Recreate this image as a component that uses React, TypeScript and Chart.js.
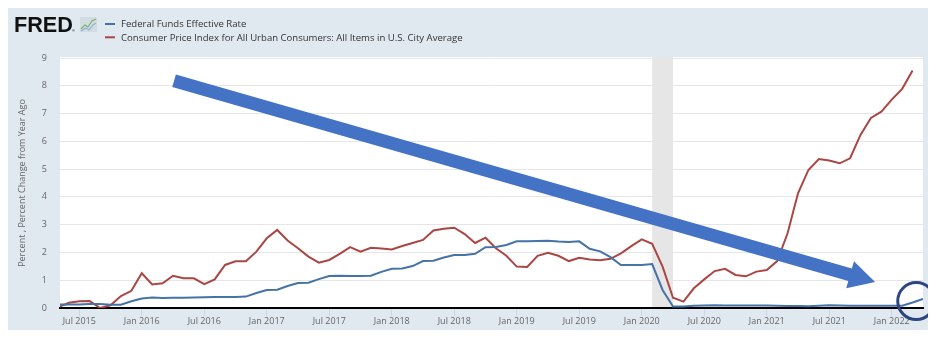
import React, { useEffect, useRef } from "react";
import { Chart, registerables } from "chart.js";

Chart.register(...registerables);

// ---------- data ----------
const monthNames = ["Jan", "Feb", "Mar", "Apr", "May", "Jun", "Jul", "Aug", "Sep", "Oct", "Nov", "Dec"];
const firstYear = 2015;
const firstMonth = 4; // May 2015
const monthCount = 84; // May 2015 .. Apr 2022
const months: string[] = [];
for (let i = 0; i < monthCount; i++) {
  const k = firstMonth + i;
  months.push(`${monthNames[k % 12]} ${firstYear + Math.floor(k / 12)}`);
}

const tickLabels = [
  "Jul 2015", "Jan 2016", "Jul 2016", "Jan 2017", "Jul 2017", "Jan 2018", "Jul 2018",
  "Jan 2019", "Jul 2019", "Jan 2020", "Jul 2020", "Jan 2021", "Jul 2021", "Jan 2022",
];

const yTicks = [0, 1, 2, 3, 4, 5, 6, 7, 8, 9];

const seriesNames = [
  "Federal Funds Effective Rate",
  "Consumer Price Index for All Urban Consumers: All Items in U.S. City Average",
];

// Federal Funds Effective Rate, May 2015 .. Apr 2022
const fedFunds = [
  0.12, 0.13, 0.13, 0.14, 0.14, 0.12, 0.12, 0.24,
  0.34, 0.38, 0.36, 0.37, 0.37, 0.38, 0.39, 0.40, 0.40, 0.40, 0.41, 0.54,
  0.65, 0.66, 0.79, 0.90, 0.91, 1.04, 1.15, 1.16, 1.15, 1.15, 1.16, 1.30,
  1.41, 1.42, 1.51, 1.69, 1.70, 1.82, 1.91, 1.91, 1.95, 2.19, 2.20, 2.27,
  2.40, 2.40, 2.41, 2.42, 2.39, 2.38, 2.40, 2.13, 2.04, 1.83, 1.55, 1.55,
  1.55, 1.58, 0.65, 0.05, 0.05, 0.08, 0.09, 0.10, 0.09, 0.09, 0.09, 0.09,
  0.09, 0.08, 0.07, 0.07, 0.06, 0.08, 0.10, 0.09, 0.08, 0.08, 0.08, 0.08,
  0.08, 0.08, 0.20, 0.33,
];

// CPI, percent change from year ago, May 2015 .. Mar 2022
const cpi = [
  0.03, 0.19, 0.24, 0.25, 0.0, 0.1, 0.43, 0.62,
  1.25, 0.85, 0.89, 1.16, 1.07, 1.07, 0.86, 1.03, 1.55, 1.68, 1.68, 2.03,
  2.51, 2.81, 2.43, 2.15, 1.85, 1.63, 1.73, 1.95, 2.19, 2.03, 2.17, 2.14,
  2.11, 2.23, 2.34, 2.45, 2.79, 2.85, 2.89, 2.66, 2.34, 2.53, 2.15, 1.88,
  1.49, 1.48, 1.88, 1.99, 1.88, 1.69, 1.81, 1.75, 1.72, 1.77, 1.97, 2.23,
  2.47, 2.31, 1.49, 0.37, 0.23, 0.71, 1.03, 1.33, 1.41, 1.19, 1.14, 1.31,
  1.37, 1.69, 2.69, 4.13, 4.97, 5.36, 5.31, 5.21, 5.39, 6.23, 6.84, 7.07,
  7.50, 7.89, 8.55,
];

const recession = ["Feb 2020", "Apr 2020"];

// annotation anchor points (in data coordinates: month index, percent)
const arrowFrom = [11.1, 8.18];
const arrowTo = [78.4, 0.94];
const circleAt = [82.35, 0.25];

// ---------- styling ----------
const BLUE = "#4572a7";
const RED = "#aa4643";
const PANEL = "#e1e9f0";
const PANEL_W = 924;
const PANEL_H = 322;
const FONT = '"Open Sans", "DejaVu Sans", sans-serif';

const fredPlugin = {
  id: "fredDecor",
  beforeDraw(chart: any) {
    const { ctx, chartArea: a } = chart;
    ctx.save();
    ctx.fillStyle = PANEL;
    ctx.fillRect(0, 0, PANEL_W, PANEL_H);
    ctx.fillStyle = "#ffffff";
    ctx.fillRect(a.left, a.top - 1, a.right - a.left, a.bottom - a.top + 1);
    ctx.restore();
  },
  beforeDatasetsDraw(chart: any) {
    const { ctx, chartArea: a, scales } = chart;
    const x0 = scales.x.getPixelForValue(months.indexOf(recession[0]));
    const x1 = scales.x.getPixelForValue(months.indexOf(recession[1]));
    ctx.save();
    ctx.fillStyle = "#e6e6e6";
    ctx.fillRect(x0, a.top - 1, x1 - x0, a.bottom - a.top);
    ctx.restore();
  },
  afterDraw(chart: any) {
    const { ctx, scales } = chart;
    ctx.save();
    // FRED logo
    ctx.fillStyle = "#111111";
    ctx.textBaseline = "alphabetic";
    ctx.textAlign = "left";
    ctx.font = 'bold 21px "Liberation Sans", Arial, sans-serif';
    const fw = ctx.measureText("FRED").width;
    const fsize = (21 * 59) / fw;
    ctx.font = `bold ${fsize}px "Liberation Sans", Arial, sans-serif`;
    ctx.fillText("FRED", 6, 24);
    ctx.font = '4px "Liberation Sans", Arial, sans-serif';
    ctx.fillText("®", 64, 24);
    // logo icon
    ctx.fillStyle = "#d3dce3";
    ctx.fillRect(72, 9, 17, 15);
    ctx.lineWidth = 1.2;
    ctx.strokeStyle = "#79b36a";
    ctx.beginPath();
    ctx.moveTo(73, 21); ctx.lineTo(77, 17); ctx.lineTo(80, 19); ctx.lineTo(84, 13); ctx.lineTo(88, 11);
    ctx.stroke();
    ctx.strokeStyle = "#8fb0d4";
    ctx.beginPath();
    ctx.moveTo(73, 23); ctx.lineTo(78, 20); ctx.lineTo(81, 22); ctx.lineTo(85, 17); ctx.lineTo(88, 15);
    ctx.stroke();

    // legend
    ctx.font = `10px ${FONT}`;
    const lw = ctx.measureText(seriesNames[1]).width;
    const lsize = (10 * 342) / lw;
    ctx.font = `${lsize}px ${FONT}`;
    ctx.textBaseline = "middle";
    const rows = [
      { y: 16, color: BLUE, text: seriesNames[0] },
      { y: 29.3, color: RED, text: seriesNames[1] },
    ];
    rows.forEach((r) => {
      ctx.strokeStyle = r.color;
      ctx.lineWidth = 2;
      ctx.beginPath();
      ctx.moveTo(97, r.y);
      ctx.lineTo(107, r.y);
      ctx.stroke();
      ctx.fillStyle = "#333333";
      ctx.fillText(r.text, 113, r.y + 0.5);
    });

    // annotation arrow
    const tx = scales.x.getPixelForValue(arrowFrom[0]);
    const ty = scales.y.getPixelForValue(arrowFrom[1]);
    const hx = scales.x.getPixelForValue(arrowTo[0]);
    const hy = scales.y.getPixelForValue(arrowTo[1]);
    const dx = hx - tx, dy = hy - ty;
    const len = Math.hypot(dx, dy);
    const ux = dx / len, uy = dy / len;
    const headLen = 26, headHalf = 14, shaft = 13;
    const bx = hx - ux * headLen, by = hy - uy * headLen;
    ctx.fillStyle = "#4472c4";
    ctx.beginPath();
    ctx.moveTo(tx - uy * shaft / 2, ty + ux * shaft / 2);
    ctx.lineTo(bx - uy * shaft / 2, by + ux * shaft / 2);
    ctx.lineTo(bx - uy * headHalf, by + ux * headHalf);
    ctx.lineTo(hx, hy);
    ctx.lineTo(bx + uy * headHalf, by - ux * headHalf);
    ctx.lineTo(bx + uy * shaft / 2, by - ux * shaft / 2);
    ctx.lineTo(tx + uy * shaft / 2, ty - ux * shaft / 2);
    ctx.closePath();
    ctx.fill();

    // annotation circle
    const cx = scales.x.getPixelForValue(circleAt[0]);
    const cy = scales.y.getPixelForValue(circleAt[1]);
    ctx.strokeStyle = "#2b4680";
    ctx.lineWidth = 3;
    ctx.beginPath();
    ctx.arc(cx, cy, 18.5, 0, Math.PI * 2);
    ctx.stroke();
    ctx.restore();
  },
};

export default function App() {
  const ref = useRef<HTMLCanvasElement | null>(null);

  useEffect(() => {
    document.documentElement.style.overflow = "hidden";
    document.body.style.overflow = "hidden";
    const canvas = ref.current;
    if (!canvas) return;
    const chart = new Chart(canvas, {
      type: "line",
      data: {
        datasets: [
          {
            label: seriesNames[0],
            data: fedFunds.map((v, i) => ({ x: i, y: v })),
            borderColor: BLUE,
            backgroundColor: BLUE,
            borderWidth: 2,
            pointRadius: 0,
            tension: 0,
            clip: 0,
          },
          {
            label: seriesNames[1],
            data: cpi.map((v, i) => ({ x: i, y: v })),
            borderColor: RED,
            backgroundColor: RED,
            borderWidth: 2,
            pointRadius: 0,
            tension: 0,
            clip: 0,
          },
        ],
      },
      options: {
        responsive: false,
        animation: false,
        devicePixelRatio: 1,
        layout: { padding: { top: 50, right: 13, left: 0, bottom: 0 } },
        plugins: {
          legend: { display: false },
          tooltip: { enabled: false },
        },
        scales: {
          x: {
            type: "linear",
            min: 0.15,
            max: 83,
            afterBuildTicks: (s: any) => {
              s.ticks = tickLabels.map((l) => ({ value: months.indexOf(l) }));
            },
            afterFit: (s: any) => {
              s.height = 22;
            },
            ticks: {
              autoSkip: false,
              maxRotation: 0,
              minRotation: 0,
              padding: 0,
              color: "#666666",
              font: { family: FONT, size: 9 },
              callback: (v: any) => months[Math.round(Number(v))],
            },
            grid: { drawOnChartArea: false, drawTicks: true, tickLength: 8, color: "#ccd6eb" },
            border: { display: true, color: "#000000", width: 2 },
          },
          y: {
            min: 0,
            max: 9,
            afterBuildTicks: (s: any) => {
              s.ticks = yTicks.map((v) => ({ value: v }));
            },
            afterFit: (s: any) => {
              s.width = 52;
            },
            ticks: {
              padding: 13,
              color: "#666666",
              font: { family: FONT, size: 9 },
            },
            grid: { color: "#e6e6e6", drawTicks: false },
            border: { display: false },
            title: {
              display: true,
              text: "Percent , Percent Change from Year Ago",
              color: "#666666",
              font: { family: FONT, size: 9 },
              padding: { top: 8.6, bottom: 0 },
            },
          },
        },
      },
      plugins: [fredPlugin],
    });
    return () => chart.destroy();
  }, []);

  return (
    <canvas
      ref={ref}
      width={928}
      height={322}
      style={{ display: "block", width: 928, height: 322 }}
    />
  );
}
